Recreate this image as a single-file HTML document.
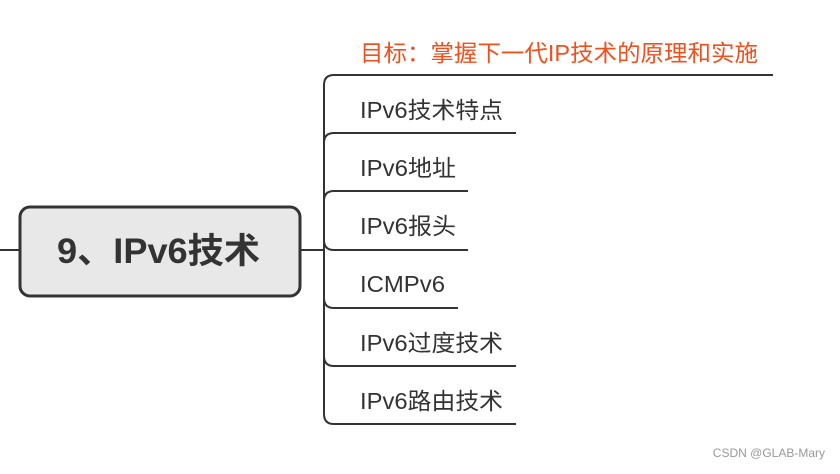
<!DOCTYPE html>
<html><head><meta charset="utf-8"><style>
body{margin:0;background:#fff;width:840px;height:469px;overflow:hidden;font-family:"Liberation Sans","Noto Sans CJK SC",sans-serif}
</style></head><body>
<svg width="840" height="469" xmlns="http://www.w3.org/2000/svg">
<g fill="none" stroke="#333" stroke-width="2">
<line x1="0" y1="250" x2="20" y2="250"/>
<line x1="300" y1="250" x2="324" y2="250"/>
<line x1="324" y1="85" x2="324" y2="414"/>
<path d="M324 85 Q324 75 334 75 H773"/>
<path d="M324 143 Q324 133 334 133 H516"/>
<path d="M324 201 Q324 191 334 191 H468"/>
<path d="M324 240 Q324 250 334 250 H468" />
<path d="M324 298 Q324 308 334 308 H458"/>
<path d="M324 356 Q324 366 334 366 H516"/>
<path d="M324 414 Q324 424 334 424 H516"/>
</g>
<rect x="20" y="207" width="280" height="89" rx="10" fill="#e8e8e8" stroke="#333" stroke-width="3"/>
<text x="57" y="263" font-size="35" font-weight="bold" fill="#333" textLength="203" lengthAdjust="spacingAndGlyphs">9、IPv6技术</text>
<g font-size="23" fill="#333">
<text x="360" y="61" fill="#f0501e" textLength="398" lengthAdjust="spacingAndGlyphs">目标：掌握下一代IP技术的原理和实施</text>
<text x="360" y="118" textLength="143" lengthAdjust="spacingAndGlyphs">IPv6技术特点</text>
<text x="360" y="176" textLength="96" lengthAdjust="spacingAndGlyphs">IPv6地址</text>
<text x="360" y="234" textLength="96" lengthAdjust="spacingAndGlyphs">IPv6报头</text>
<text x="360" y="292" textLength="85" lengthAdjust="spacingAndGlyphs">ICMPv6</text>
<text x="360" y="351" textLength="143" lengthAdjust="spacingAndGlyphs">IPv6过度技术</text>
<text x="360" y="409" textLength="143" lengthAdjust="spacingAndGlyphs">IPv6路由技术</text>
</g>
<text x="825" y="457" text-anchor="end" font-size="12" fill="#999">CSDN @GLAB-Mary</text>
</svg>
</body></html>
